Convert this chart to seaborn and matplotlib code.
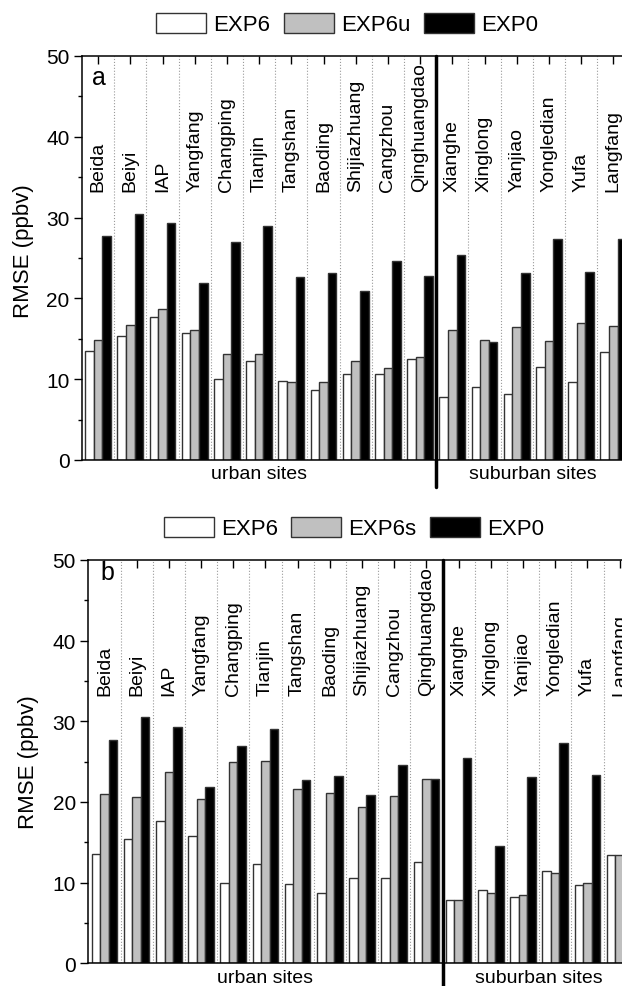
import pandas as pd
import matplotlib.pyplot as plt
import seaborn as sns
from matplotlib.patches import Patch
from matplotlib.ticker import MultipleLocator

sns.set_style("ticks")
plt.rcParams['font.family'] = ['Liberation Sans', 'DejaVu Sans']
plt.rcParams['text.color'] = 'black'
plt.rcParams['axes.edgecolor'] = 'black'
plt.rcParams['xtick.color'] = 'black'
plt.rcParams['ytick.color'] = 'black'

# Site names and RMSE values (ppbv)
urban_sites = ["Beida", "Beiyi", "IAP", "Yangfang", "Changping", "Tianjin",
               "Tangshan", "Baoding", "Shijiazhuang", "Cangzhou", "Qinghuangdao"]
suburban_sites = ["Xianghe", "Xinglong", "Yanjiao", "Yongledian", "Yufa", "Langfang"]
sites = urban_sites + suburban_sites

exp6 = [13.5, 15.4, 17.65, 15.75, 10.0, 12.3, 9.8, 8.7, 10.6, 10.6, 12.5,
        7.8, 9.05, 8.2, 11.5, 9.7, 13.4]
exp6u = [14.8, 16.7, 18.7, 16.1, 13.1, 13.1, 9.6, 9.6, 12.3, 11.4, 12.8,
         16.1, 14.9, 16.4, 14.75, 17.0, 16.6]
exp6s = [21.0, 20.65, 23.7, 20.4, 24.9, 25.1, 21.6, 21.1, 19.4, 20.8, 22.9,
         7.8, 8.7, 8.45, 11.2, 9.9, 13.4]
exp0 = [27.7, 30.5, 29.3, 21.85, 27.0, 29.0, 22.7, 23.2, 20.9, 24.6, 22.8,
        25.4, 14.55, 23.1, 27.3, 23.3, 27.35]

colors = ["white", "#c0c0c0", "black"]
edge = "#333333"

W, H = 622, 987
fig = plt.figure(figsize=(W / 100, H / 100), dpi=100)


def long_frame(mid_name, mid_vals):
    rows = []
    for name, vals in [("EXP6", exp6), (mid_name, mid_vals), ("EXP0", exp0)]:
        for s, v in zip(sites, vals):
            rows.append({"site": s, "exp": name, "rmse": v})
    return pd.DataFrame(rows)


def draw_panel(left_px, top_px, bottom_px, mid_name, mid_vals, tag, tag_xy, ylab_xy, leg_xy):
    ax = fig.add_axes([left_px / W, 1 - bottom_px / H,
                       17 * 32.2 / W, (bottom_px - top_px) / H])
    df = long_frame(mid_name, mid_vals)
    order = ["EXP6", mid_name, "EXP0"]
    sns.barplot(data=df, x="site", y="rmse", hue="exp", hue_order=order, order=sites,
                palette=colors, edgecolor=edge, linewidth=1.0, width=0.8,
                saturation=1, legend=False, ax=ax)
    ax.set_xlim(-0.5, 16.5)
    ax.set_ylim(0, 50)
    ax.yaxis.set_major_locator(MultipleLocator(10))
    ax.yaxis.set_minor_locator(MultipleLocator(5))
    ax.tick_params(axis="y", which="major", direction="out", length=6, width=1,
                   labelsize=15, pad=3)
    ax.tick_params(axis="y", which="minor", direction="out", length=3, width=1)
    ax.tick_params(axis="x", which="major", top=True, bottom=False, direction="in",
                   length=5.5, width=1, labelbottom=False, labeltop=False)
    ax.set_xlabel("")
    ax.set_ylabel("")
    for sp in ax.spines.values():
        sp.set_linewidth(1.1)

    # group separators
    for i in range(16):
        if i == 10:
            continue
        ax.axvline(i + 0.5, color="#9a9a9a", linestyle=":", linewidth=0.8, zorder=0)
    ax.plot([10.5, 10.5], [-3.3, 50], color="black", linewidth=2.5, clip_on=False, zorder=5)

    for i, s in enumerate(sites):
        ax.text(i, 33.3, s, rotation=90, ha="center", va="bottom", fontsize=14)

    ax.text(5, -1.7, "urban sites", ha="center", va="center", fontsize=14, clip_on=False)
    ax.text(13.5, -1.7, "suburban sites", ha="center", va="center", fontsize=14, clip_on=False)

    fig.text(tag_xy[0] / W, 1 - tag_xy[1] / H, tag, fontsize=18, ha="left", va="baseline")
    fig.text(ylab_xy[0] / W, 1 - ylab_xy[1] / H, "RMSE (ppbv)", rotation=90,
             ha="center", va="center", fontsize=16)

    handles = [Patch(facecolor=c, edgecolor=edge, linewidth=1.0) for c in colors]
    fig.legend(handles, order, loc="center", bbox_to_anchor=(leg_xy[0] / W, 1 - leg_xy[1] / H),
               ncol=3, frameon=False, fontsize=16, handlelength=2.25, handleheight=1.0,
               handletextpad=0.32, columnspacing=0.6, borderpad=0, borderaxespad=0)
    return ax


draw_panel(82, 57, 461, "EXP6u", exp6u, "a", (92, 85), (23.5, 251), (347, 25))
draw_panel(88.3, 561, 964.3, "EXP6s", exp6s, "b", (100, 580), (28.5, 762), (354, 529))

fig.savefig("out.png", dpi=100)
